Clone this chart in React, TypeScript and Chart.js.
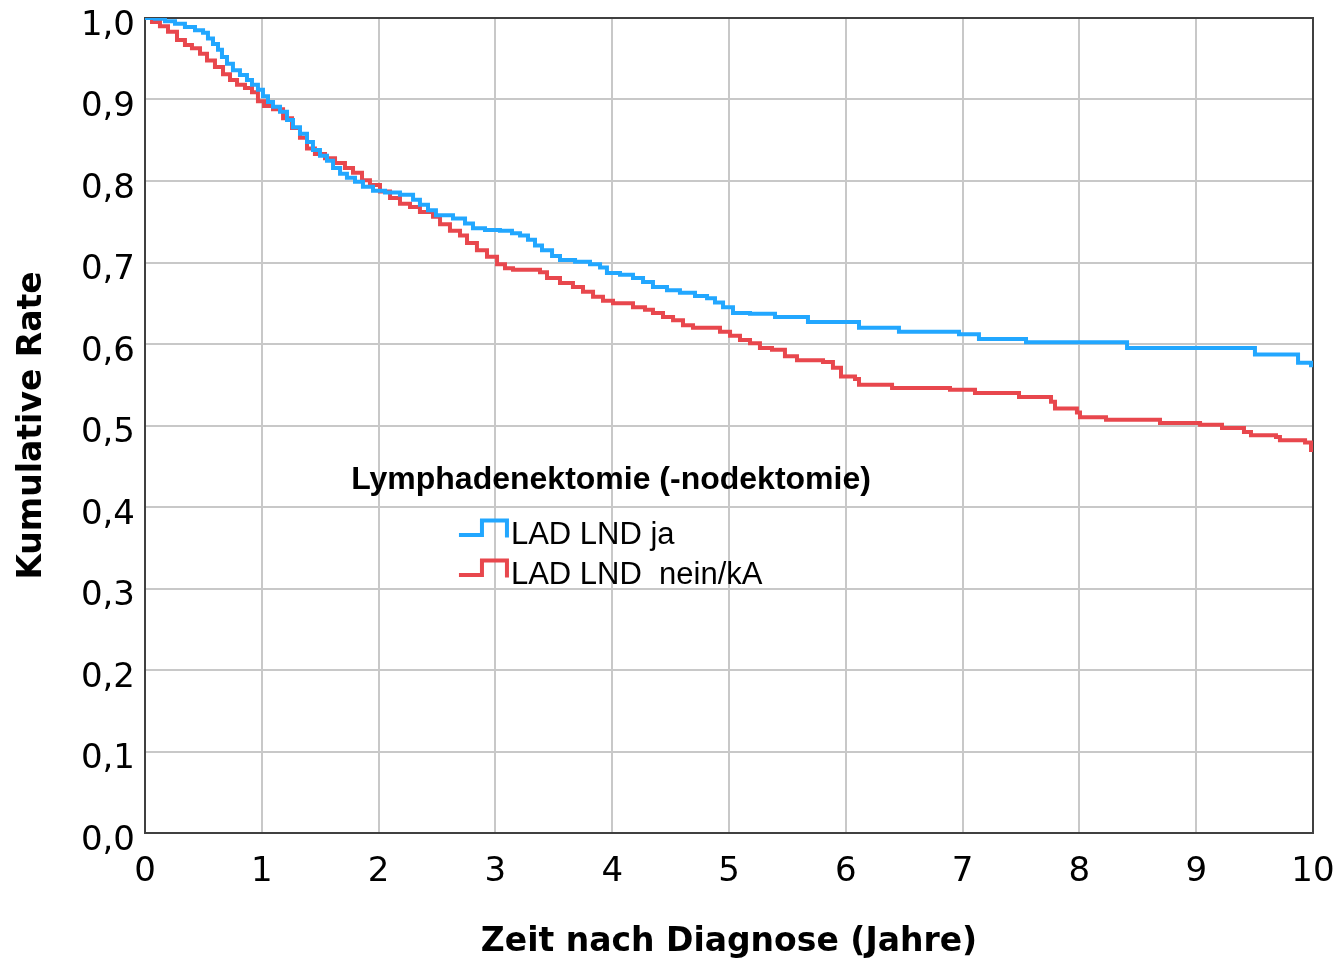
import React, { useEffect, useRef } from 'react';
import { Chart, registerables } from 'chart.js';

Chart.register(...registerables);

const xTickLabels = ['0', '1', '2', '3', '4', '5', '6', '7', '8', '9', '10'];
const yTickLabels = ['0,0', '0,1', '0,2', '0,3', '0,4', '0,5', '0,6', '0,7', '0,8', '0,9', '1,0'];
const xAxisTitle = 'Zeit nach Diagnose (Jahre)';
const yAxisTitle = 'Kumulative Rate';
const legendTitle = 'Lymphadenektomie (-nodektomie)';
const seriesNames = ['LAD LND ja', 'LAD LND  nein/kA'];
const seriesColors = ['#22a7ff', '#e8474d'];

// Kaplan-Meier steps: group "LAD LND ja"
const timesJa = [
  0, 0.086, 0.171, 0.257, 0.342, 0.428, 0.497, 0.539, 0.582, 0.625, 0.659, 0.702, 0.753, 0.813, 0.873,
  0.916, 0.967, 1.01, 1.053, 1.096, 1.156, 1.216, 1.267, 1.327, 1.387, 1.438, 1.498, 1.558, 1.61, 1.67,
  1.729, 1.798, 1.866, 1.952, 2.055, 2.183, 2.295, 2.354, 2.423, 2.491, 2.637, 2.74, 2.808, 2.911, 3.039,
  3.142, 3.211, 3.279, 3.339, 3.399, 3.485, 3.553, 3.682, 3.81, 3.896, 3.955, 4.067, 4.178, 4.264, 4.349,
  4.469, 4.58, 4.709, 4.812, 4.88, 4.949, 5.034, 5.18, 5.394, 5.676, 6.113, 6.455, 6.969, 7.14, 7.543,
  8.408, 9.503, 9.872, 9.983, 10,
];
const rateJa = [
  1.0, 0.999, 0.996, 0.993, 0.989, 0.985, 0.982, 0.975, 0.968, 0.961, 0.952, 0.944, 0.936, 0.93, 0.924,
  0.918, 0.912, 0.904, 0.897, 0.891, 0.885, 0.875, 0.866, 0.858, 0.848, 0.838, 0.831, 0.825, 0.816, 0.809,
  0.804, 0.799, 0.793, 0.788, 0.786, 0.783, 0.777, 0.771, 0.764, 0.758, 0.754, 0.748, 0.742, 0.74, 0.739,
  0.736, 0.733, 0.728, 0.721, 0.715, 0.708, 0.703, 0.701, 0.698, 0.694, 0.687, 0.685, 0.681, 0.676, 0.67,
  0.666, 0.663, 0.659, 0.656, 0.651, 0.645, 0.638, 0.637, 0.633, 0.627, 0.62, 0.615, 0.612, 0.606, 0.602,
  0.595, 0.587, 0.577, 0.574, 0.574,
];

// Kaplan-Meier steps: group "LAD LND nein/kA"
const timesNein = [
  0, 0.06, 0.128, 0.197, 0.274, 0.342, 0.402, 0.471, 0.531, 0.599, 0.668, 0.728, 0.788, 0.856, 0.916,
  0.967, 1.019, 1.096, 1.182, 1.259, 1.327, 1.387, 1.455, 1.541, 1.627, 1.712, 1.781, 1.858, 1.926, 2.012,
  2.098, 2.183, 2.269, 2.354, 2.466, 2.526, 2.611, 2.697, 2.757, 2.842, 2.928, 3.014, 3.082, 3.151, 3.382,
  3.442, 3.553, 3.664, 3.75, 3.836, 3.921, 4.007, 4.178, 4.281, 4.349, 4.435, 4.521, 4.606, 4.692, 4.923,
  5.009, 5.094, 5.18, 5.265, 5.368, 5.479, 5.582, 5.805, 5.89, 5.959, 6.079, 6.113, 6.396, 6.892, 7.106,
  7.483, 7.757, 7.791, 7.979, 8.005, 8.228, 8.69, 9.033, 9.221, 9.409, 9.469, 9.683, 9.717, 9.932, 9.983, 10,
];
const rateNein = [
  1.0, 0.995, 0.99, 0.983, 0.973, 0.967, 0.963, 0.956, 0.948, 0.94, 0.931, 0.924, 0.918, 0.914, 0.909,
  0.898, 0.892, 0.888, 0.877, 0.865, 0.853, 0.84, 0.833, 0.828, 0.822, 0.816, 0.81, 0.801, 0.795, 0.787,
  0.779, 0.772, 0.768, 0.762, 0.756, 0.747, 0.739, 0.733, 0.724, 0.715, 0.707, 0.698, 0.693, 0.691, 0.688,
  0.681, 0.675, 0.67, 0.664, 0.658, 0.653, 0.65, 0.645, 0.642, 0.638, 0.633, 0.629, 0.623, 0.62, 0.615,
  0.61, 0.605, 0.601, 0.595, 0.593, 0.585, 0.58, 0.578, 0.571, 0.56, 0.557, 0.55, 0.546, 0.544, 0.54,
  0.535, 0.529, 0.521, 0.516, 0.51, 0.507, 0.503, 0.501, 0.497, 0.492, 0.488, 0.486, 0.482, 0.479, 0.47, 0.47,
];

const AXIS_FONT = 'DejaVu Sans';
const LEGEND_FONT = '"Liberation Sans", Arial, sans-serif';

const frameAndLegendPlugin = {
  id: 'frameAndLegend',
  beforeDatasetsDraw(chart: any) {
    const { ctx, chartArea } = chart;
    ctx.save();
    ctx.strokeStyle = '#404040';
    ctx.lineWidth = 2;
    ctx.strokeRect(chartArea.left, chartArea.top, chartArea.right - chartArea.left, chartArea.bottom - chartArea.top);
    ctx.restore();
  },
  afterDatasetsDraw(chart: any) {
    const { ctx, chartArea } = chart;
    const w = chartArea.right - chartArea.left;
    const h = chartArea.bottom - chartArea.top;
    ctx.save();
    ctx.fillStyle = '#000';
    ctx.textBaseline = 'alphabetic';
    ctx.font = `bold 32px ${LEGEND_FONT}`;
    ctx.textAlign = 'center';
    ctx.fillText(legendTitle, chartArea.left + 0.399 * w, chartArea.top + 0.5774 * h);

    ctx.font = `31px ${LEGEND_FONT}`;
    ctx.textAlign = 'left';
    const rowBase = [0.645, 0.694];
    const iconX = chartArea.left + 0.2688 * w;
    const textX = chartArea.left + 0.3133 * w;
    seriesNames.forEach((name, i) => {
      const b = chartArea.top + rowBase[i] * h;
      const c = b - 11.1;
      ctx.strokeStyle = seriesColors[i];
      ctx.lineWidth = 4;
      ctx.lineJoin = 'miter';
      ctx.lineCap = 'butt';
      ctx.beginPath();
      ctx.moveTo(iconX, c + 2.5);
      ctx.lineTo(iconX + 23, c + 2.5);
      ctx.lineTo(iconX + 23, c - 12);
      ctx.lineTo(iconX + 48, c - 12);
      ctx.lineTo(iconX + 48, c + 5);
      ctx.stroke();
      ctx.fillStyle = '#000';
      ctx.fillText(name, textX, b);
    });
    ctx.restore();
  },
};

export default function App() {
  const canvasRef = useRef<HTMLCanvasElement | null>(null);

  useEffect(() => {
    if (!canvasRef.current) return;
    const chart = new Chart(canvasRef.current, {
      type: 'line',
      data: {
        datasets: [
          {
            label: seriesNames[0],
            data: timesJa.map((t, i) => ({ x: t, y: rateJa[i] })),
            borderColor: seriesColors[0],
            backgroundColor: seriesColors[0],
            borderWidth: 4,
            pointRadius: 0,
            stepped: 'before',
            fill: false,
          },
          {
            label: seriesNames[1],
            data: timesNein.map((t, i) => ({ x: t, y: rateNein[i] })),
            borderColor: seriesColors[1],
            backgroundColor: seriesColors[1],
            borderWidth: 4,
            pointRadius: 0,
            stepped: 'before',
            fill: false,
          },
        ],
      },
      options: {
        animation: false,
        responsive: true,
        maintainAspectRatio: false,
        layout: { padding: { top: 18, right: 22, bottom: 0, left: 0 } },
        plugins: {
          legend: { display: false },
          tooltip: { enabled: false },
        },
        scales: {
          x: {
            type: 'linear',
            min: 0,
            max: 10,
            ticks: {
              stepSize: 1,
              autoSkip: false,
              maxRotation: 0,
              color: '#000',
              padding: 19,
              font: { family: AXIS_FONT, size: 34 },
              callback: (v: any) => xTickLabels[Math.round(Number(v))],
            },
            grid: { color: '#c8c8c8', lineWidth: 2, drawTicks: false },
            border: { display: false },
            title: {
              display: true,
              text: xAxisTitle,
              color: '#000',
              font: { family: AXIS_FONT, size: 33, weight: 'bold' },
              padding: { top: 0, bottom: -2 },
            },
            afterFit: (s: any) => {
              s.height = 127;
              s.paddingLeft = 0;
              s.paddingRight = 0;
            },
          },
          y: {
            type: 'linear',
            min: 0,
            max: 1,
            ticks: {
              stepSize: 0.1,
              color: '#000',
              padding: 10,
              labelOffset: 8,
              font: { family: AXIS_FONT, size: 34 },
              callback: (v: any) => yTickLabels[Math.round(Number(v) * 10)],
            },
            grid: { color: '#c8c8c8', lineWidth: 2, drawTicks: false },
            border: { display: false },
            title: {
              display: true,
              text: yAxisTitle,
              color: '#000',
              font: { family: AXIS_FONT, size: 33, weight: 'bold' },
              padding: { top: 13, bottom: 0 },
            },
            afterFit: (s: any) => {
              s.width = 145;
              s.paddingTop = 0;
              s.paddingBottom = 0;
            },
          },
        },
      },
      plugins: [frameAndLegendPlugin],
    });
    return () => chart.destroy();
  }, []);

  return (
    <div style={{ position: 'absolute', left: 0, top: 0, width: 1335, height: 960, background: '#fff' }}>
      <canvas ref={canvasRef} />
    </div>
  );
}
